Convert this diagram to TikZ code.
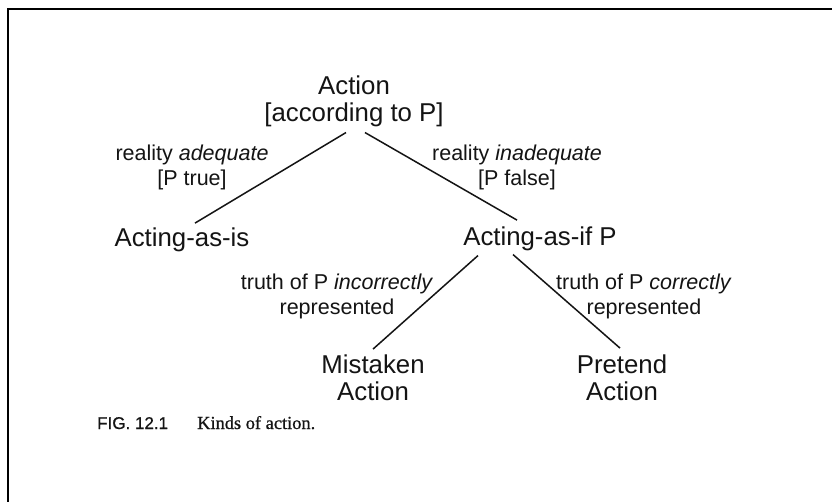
\documentclass[tikz,border=0pt]{standalone}
\usepackage{fontspec}
\setmainfont{Liberation Sans}
\newfontfamily\capserif[FakeBold=0.7]{Liberation Serif}
\newfontfamily\capsans[FakeBold=0.7]{Liberation Sans}
\usetikzlibrary{calc}
\definecolor{ink}{HTML}{141414}
\tikzset{
  term/.style={inner sep=0pt, anchor=base, align=center, text=ink,
    font=\fontsize{25.8}{27}\selectfont},
  lab/.style={inner sep=0pt, anchor=base, align=center, text=ink,
    font=\fontsize{21.5}{25.5}\selectfont},
  captxt/.style={inner sep=0pt, anchor=base west, text=ink},
  edge/.style={draw=ink, line width=1.5pt},
  frame/.style={draw=black, line width=2.2pt}
}
\begin{document}
\begin{tikzpicture}[x=1pt,y=-1pt]
\useasboundingbox (0,0) rectangle (832,502);
\fill[white] (0,0) rectangle (832,502);
\draw[frame] (832,9) -- (8,9) -- (8,502);

% multi-line nodes: base anchor = baseline of last line
\node[term] (action) at (354,122) {Action\\{[}according to P{]}};
\node[term] (actis) at (182,247) {Acting-as-is};
\node[term] (actif) at (540,246) {Acting-as-if P};
\node[term] (mist) at (373,400) {Mistaken\\Action};
\node[term] (pret) at (622,400) {Pretend\\Action};

\node[lab] (lab1) at (192,186) {reality \textit{adequate}\\{[}P true{]}};
\node[lab] (lab2) at (517,186) {reality \textit{inadequate}\\{[}P false{]}};
\node[lab] (lab3) at (337,315) {truth of P \textit{incorrectly}\\represented};
\node[lab] (lab4) at (644,315) {truth of P \textit{correctly}\\represented};

\node[captxt, font=\capsans\fontsize{17}{20}\selectfont] (fig) at (97,429) {FIG. 12.1};
\node[captxt, font=\capserif\fontsize{18.4}{20}\selectfont] (kinds) at (197,429) {Kinds of action.};

\draw[edge] ($(action.south)+(-8,5)$) -- ($(actis.north)+(13,-5)$);
\draw[edge] ($(action.south)+(11,5)$) -- ($(actif.north)+(-23,-7)$);
\draw[edge] ($(actif.south)+(-62,4)$) -- ($(mist.north)+(0,-5)$);
\draw[edge] ($(actif.south)+(-27,3)$) -- ($(pret.north)+(-2,-6)$);
\end{tikzpicture}
\end{document}
